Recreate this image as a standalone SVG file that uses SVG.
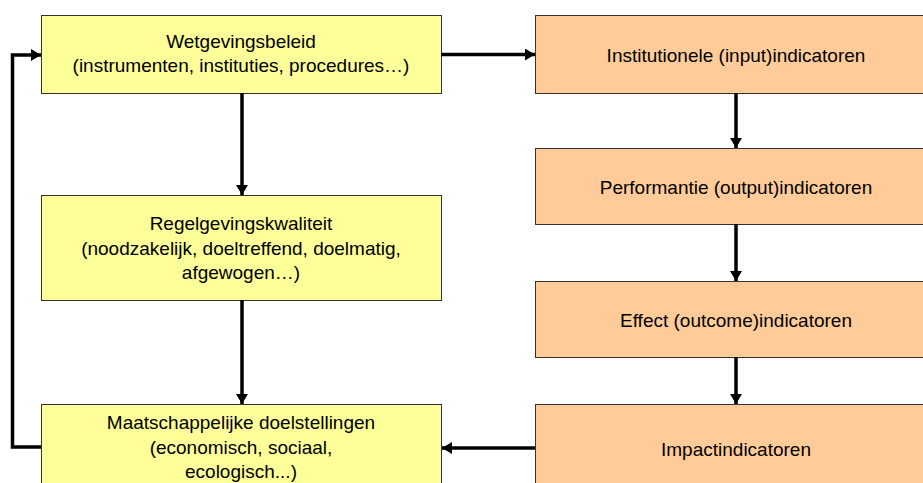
<svg xmlns="http://www.w3.org/2000/svg" width="923" height="483" viewBox="0 0 923 483">
<style>
  .y { fill: #FFFF99; stroke: #333333; stroke-width: 1; }
  .o { fill: #FFCC99; stroke: #333333; stroke-width: 1; }
  text { font-family: "Liberation Sans", Arial, sans-serif; font-size: 19px; fill: #000000; text-anchor: middle; }
  .c { fill: none; stroke: #000000; stroke-width: 3.5; }
</style>
<defs>
  <marker id="ah" markerUnits="userSpaceOnUse" markerWidth="10" markerHeight="12" refX="10" refY="6" orient="auto">
    <path d="M0,0 L10,6 L0,12 z" fill="#000000"/>
  </marker>
</defs>
<rect width="923" height="483" fill="#FFFFFF"/>
<g id="wetgevingsbeleid">
  <rect class="y" x="41.5" y="15.5" width="400" height="78"/>
  <text x="241" y="48">Wetgevingsbeleid</text>
  <text x="241" y="71.5">(instrumenten, instituties, procedures…)</text>
</g>
<g id="regelgevingskwaliteit">
  <rect class="y" x="41.5" y="195.5" width="400" height="105"/>
  <text x="241" y="230">Regelgevingskwaliteit</text>
  <text x="241" y="254.5">(noodzakelijk, doeltreffend, doelmatig,</text>
  <text x="241" y="279">afgewogen…)</text>
</g>
<g id="maatschappelijke">
  <rect class="y" x="41.5" y="404.5" width="400" height="110"/>
  <text x="241" y="428.5">Maatschappelijke doelstellingen</text>
  <text x="241" y="453.5">(economisch, sociaal,</text>
  <text x="241" y="478">ecologisch...)</text>
</g>
<g id="institutionele">
  <rect class="o" x="535.5" y="15.5" width="400" height="78"/>
  <text x="736" y="62">Institutionele (input)indicatoren</text>
</g>
<g id="performantie">
  <rect class="o" x="535.5" y="148.5" width="400" height="76"/>
  <text x="736" y="194">Performantie (output)indicatoren</text>
</g>
<g id="effect">
  <rect class="o" x="535.5" y="281.5" width="400" height="76"/>
  <text x="736" y="327">Effect (outcome)indicatoren</text>
</g>
<g id="impact">
  <rect class="o" x="535.5" y="404.5" width="400" height="110"/>
  <text x="736" y="456">Impactindicatoren</text>
</g>
<g id="connectors">
  <path class="c" d="M441,54.5 H535" marker-end="url(#ah)"/>
  <path class="c" d="M242,93 V195" marker-end="url(#ah)"/>
  <path class="c" d="M242,300 V404" marker-end="url(#ah)"/>
  <path class="c" d="M736,93 V148" marker-end="url(#ah)"/>
  <path class="c" d="M736,224 V281" marker-end="url(#ah)"/>
  <path class="c" d="M736,357 V404" marker-end="url(#ah)"/>
  <path class="c" d="M535,448 H442" marker-end="url(#ah)"/>
  <path class="c" d="M41,447 H12.5 V55 H41" marker-end="url(#ah)"/>
</g>
</svg>
